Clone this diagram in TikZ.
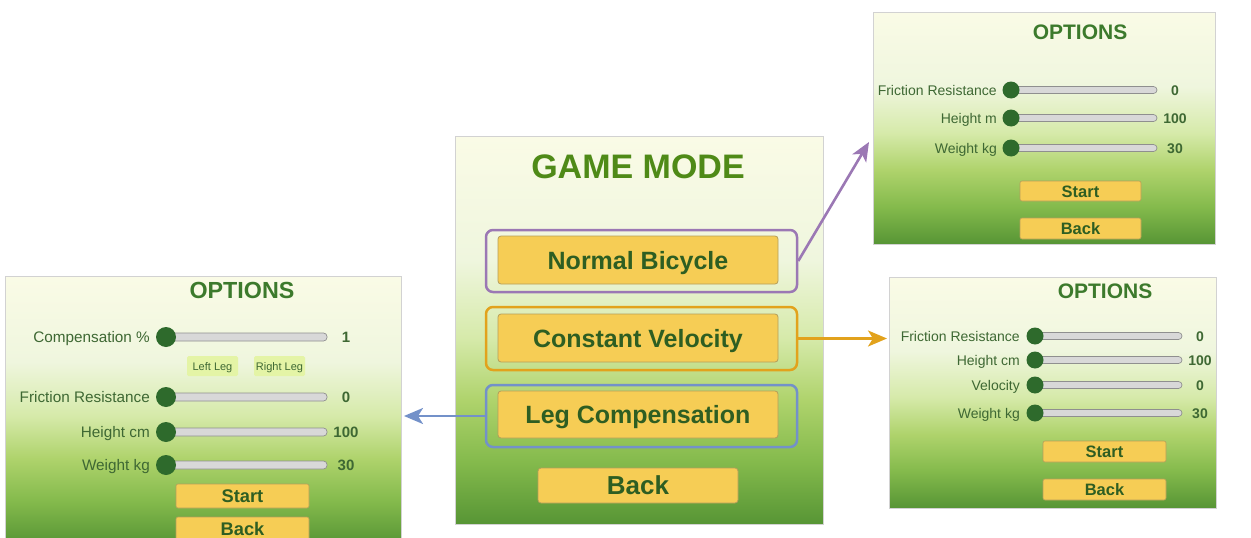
\documentclass[tikz,border=0pt]{standalone}
\usepackage{fontspec}
\setmainfont{Liberation Sans}
\usetikzlibrary{arrows.meta}

\definecolor{titlegreen}{HTML}{4F8A17}
\definecolor{btntext}{HTML}{2E5E22}
\definecolor{labgreen}{HTML}{3E6833}
\definecolor{optgreen}{HTML}{3C7A2C}
\definecolor{btnfill}{HTML}{F6CD55}
\definecolor{btnedge}{HTML}{B59E5A}
\definecolor{knobgreen}{HTML}{2E6A2C}
\definecolor{trackfill}{HTML}{D8D8D8}
\definecolor{trackedge}{HTML}{8F8F8F}
\definecolor{legfill}{HTML}{E4F4A6}
\definecolor{modepurple}{HTML}{9B78B4}
\definecolor{modeorange}{HTML}{E2A21C}
\definecolor{modeblue}{HTML}{7391C9}
\definecolor{bgtop}{HTML}{FAFBE6}
\definecolor{bgmid}{HTML}{EFF6DE}
\definecolor{bglow}{HTML}{D6EAAA}
\definecolor{bggrass}{HTML}{AFD36C}
\definecolor{bgdeep}{HTML}{84BA4C}
\definecolor{bgbottom}{HTML}{579535}

\pgfdeclareverticalshading{meadow}{100bp}{color(0bp)=(bgbottom); color(25bp)=(bgbottom);
  color(33bp)=(bgdeep); color(41bp)=(bggrass); color(49bp)=(bglow); color(59bp)=(bgmid);
  color(75bp)=(bgtop); color(100bp)=(bgtop)}

\tikzset{
  panel/.style={shade, shading=meadow, draw=gray!35, line width=0.6pt, inner sep=0pt, outer sep=0pt},
  modebox/.style={draw, line width=2.5pt, rounded corners=7pt, minimum width=311pt,
    minimum height=62pt, inner sep=0pt},
  bigbtn/.style={draw=btnedge, fill=btnfill, line width=0.8pt, rounded corners=3pt, text=btntext,
    font=\fontsize{25}{28}\selectfont\bfseries, text height=18pt, text depth=0pt,
    minimum width=280pt, minimum height=48pt, inner sep=0pt},
  smallbtn/.style={draw=btnedge, fill=btnfill, line width=0.6pt, rounded corners=2pt, text=btntext,
    font=\fontsize{16.5}{18}\selectfont\bfseries, text height=12pt, text depth=0pt,
    minimum width=121pt, minimum height=20pt, inner sep=0pt},
  legbtn/.style={fill=legfill, rounded corners=1.5pt, text=labgreen,
    font=\fontsize{11}{12}\selectfont, text height=8pt, text depth=0pt,
    minimum width=51pt, minimum height=20pt, inner sep=0pt},
  heading/.style={text=optgreen, font=\fontsize{21}{24}\selectfont\bfseries, text height=15pt,
    text depth=0pt, inner sep=0pt},
  slab/.style={anchor=east, text=labgreen, font=\fontsize{14}{16}\selectfont, text height=10pt,
    text depth=0pt, inner sep=0pt},
  sval/.style={text=labgreen, font=\fontsize{14}{16}\selectfont\bfseries, text height=10pt,
    text depth=0pt, inner sep=0pt},
  knob/.style={circle, fill=knobgreen, minimum size=17pt, inner sep=0pt},
  track/.style={draw=trackedge, fill=trackfill, line width=0.7pt, rounded corners=3.5pt},
  link/.style={line width=2.6pt, -{Stealth[length=19pt, width=16pt, inset=5pt]}}
}

\begin{document}
\begin{tikzpicture}[x=1pt,y=-1pt]
  \clip (0,0) rectangle (1251,538);

  % Game mode menu
  \node[panel, minimum width=368pt, minimum height=388pt] (gm) at (639,330) {};
  \node[text=titlegreen, font=\fontsize{34}{38}\selectfont\bfseries, text height=24.3pt,
    text depth=0pt, inner sep=0pt] (gmtitle) at (638,166.5) {GAME MODE};

  \node[modebox, draw=modepurple] (nbout) at (641.5,261) {};
  \node[modebox, draw=modeorange, minimum height=63pt] (cvout) at (641.5,338.5) {};
  \node[modebox, draw=modeblue] (lcout) at (641.5,416) {};

  \node[bigbtn] (nbbtn) at (638,260) {Normal Bicycle};
  \node[bigbtn] (cvbtn) at (638,338) {Constant Velocity};
  \node[bigbtn, minimum height=47pt] (lcbtn) at (638,414.5) {Leg Compensation};
  \node[bigbtn, minimum width=200pt, minimum height=35pt,
    font=\fontsize{26}{28}\selectfont\bfseries] (gmback) at (638,485.5) {Back};

  % Normal bicycle options
  \node[panel, minimum width=342pt, minimum height=232pt] (nbopt) at (1044,128) {};
  \node[heading] (nbhead) at (1080,32) {OPTIONS};
  \foreach \r/\yy/\lab/\val in {1/90/Friction Resistance/0, 2/118/Height m/100, 3/148/Weight kg/30} {
    \draw[track] (1011,\yy-3.5) rectangle (1157,\yy+3.5);
    \node[knob] (nbknob\r) at (1011,\yy) {};
    \node[slab] (nblab\r) at (997,\yy) {\lab};
    \node[sval] (nbval\r) at (1175,\yy) {\val};
  }
  \node[smallbtn] (nbstart) at (1080.5,191) {Start};
  \node[smallbtn, minimum height=21pt] (nbback) at (1080.5,228.5) {Back};

  % Constant velocity options
  \node[panel, minimum width=327pt, minimum height=231pt] (cvopt) at (1052.5,392.5) {};
  \node[heading] (cvhead) at (1105,291) {OPTIONS};
  \foreach \r/\yy/\lab/\val in {1/336/Friction Resistance/0, 2/360/Height cm/100,
      3/385/Velocity/0, 4/413/Weight kg/30} {
    \draw[track] (1035,\yy-3.5) rectangle (1182,\yy+3.5);
    \node[knob] (cvknob\r) at (1035,\yy) {};
    \node[slab] (cvlab\r) at (1020,\yy) {\lab};
    \node[sval] (cvval\r) at (1200,\yy) {\val};
  }
  \node[smallbtn, minimum width=123pt, minimum height=21pt] (cvstart) at (1104.5,451.5) {Start};
  \node[smallbtn, minimum width=123pt, minimum height=21pt] (cvback) at (1104.5,489.5) {Back};

  % Leg compensation options
  \node[panel, minimum width=396pt, minimum height=268pt] (lcopt) at (203,410) {};
  \node[heading, font=\fontsize{23.3}{26}\selectfont\bfseries, text height=16.7pt] (lchead)
    at (242,290) {OPTIONS};
  \begin{scope}[slab/.append style={font=\fontsize{15.3}{17}\selectfont, text height=11pt},
      sval/.append style={font=\fontsize{15}{17}\selectfont\bfseries, text height=10.8pt},
      knob/.append style={minimum size=20pt}]
    \foreach \r/\yy/\lab/\val in {1/337/Compensation \%/1, 2/397/Friction Resistance/0,
        3/432/Height cm/100, 4/465/Weight kg/30} {
      \draw[track] (166,\yy-4) rectangle (327,\yy+4);
      \node[knob] (lcknob\r) at (166,\yy) {};
      \node[slab] (lclab\r) at (150,\yy) {\lab};
      \node[sval] (lcval\r) at (346,\yy) {\val};
    }
  \end{scope}
  \node[legbtn] (leftleg) at (212.5,366) {Left Leg};
  \node[legbtn] (rightleg) at (279.5,366) {Right Leg};
  \node[smallbtn, minimum width=133pt, minimum height=24pt,
    font=\fontsize{18.3}{20}\selectfont\bfseries, text height=13pt] (lcstart) at (242.5,496) {Start};
  \node[smallbtn, minimum width=133pt, minimum height=24pt,
    font=\fontsize{18.3}{20}\selectfont\bfseries, text height=13pt] (lcback) at (242.5,529) {Back};

  % Links from the modes to their options
  \coordinate (nbtip) at (869,142);
  \coordinate (cvtip) at (887,338.5);
  \coordinate (lctip) at (404,416);
  \draw[link, modepurple] (nbout.east) -- (nbtip);
  \draw[link, modeorange] (cvout.east) -- (cvtip);
  \draw[link, modeblue] (lcout.west) -- (lctip);
\end{tikzpicture}
\end{document}
